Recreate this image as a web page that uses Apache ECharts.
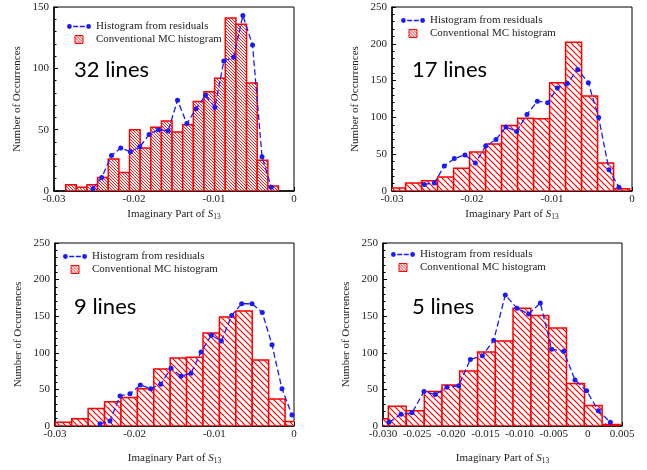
<!DOCTYPE html>
<html>
<head>
<meta charset="utf-8">
<script src="https://cdn.jsdelivr.net/npm/echarts@6/dist/echarts.min.js"></script>
<style>
html,body{margin:0;padding:0;background:#fff;}
#chart{width:647px;height:470px;}
</style>
</head>
<body>
<div id="chart"></div>
<script>
// ---------- DATA ----------
// Panel 1: 32 lines
const p1BinLeft = [-0.02854,-0.02721,-0.02588,-0.02455,-0.02322,-0.02189,-0.02056,-0.01923,-0.0179,-0.01657,-0.01524,-0.01391,-0.01258,-0.01125,-0.00992,-0.00859,-0.00726,-0.00593,-0.0046,-0.00327];
const p1BinWidth = 0.00133;
const p1Counts = [5,3,5,11,26,15,50,35,52,57,48,54,73,81,92,141,136,88,25,4];
const p1LineX = [-0.02512,-0.02403,-0.02282,-0.02166,-0.02045,-0.01928,-0.01811,-0.01694,-0.01573,-0.01456,-0.0134,-0.01223,-0.01106,-0.00989,-0.00877,-0.00756,-0.00639,-0.00518,-0.004,-0.00284];
const p1LineY = [2,11,29,35,32,36,46,50,49,74,55,67,78,68,106,109,143,119,28,3];

// Panel 2: 17 lines
const p2BinLeft = [-0.0303,-0.0283,-0.0263,-0.0243,-0.0223,-0.0203,-0.0183,-0.0163,-0.0143,-0.0123,-0.0103,-0.0083,-0.0063,-0.0043,-0.0023];
const p2BinWidth = 0.002;
const p2Counts = [4,11,14,19,31,53,64,89,99,98,147,202,129,38,3];
const p2LineX = [-0.02596,-0.02471,-0.02346,-0.02221,-0.02088,-0.01958,-0.01829,-0.017,-0.01575,-0.01442,-0.01313,-0.01183,-0.01054,-0.00933,-0.00808,-0.00679,-0.00546,-0.00417,-0.00288,-0.00163];
const p2LineY = [9,11,34,44,49,38,61,70,87,81,104,122,120,140,146,165,147,100,29,5];

// Panel 3: 9 lines
const p3BinLeft = [-0.02996,-0.0279,-0.02584,-0.02378,-0.02172,-0.01966,-0.0176,-0.01554,-0.01348,-0.01142,-0.00936,-0.0073,-0.00524,-0.00318,-0.00112];
const p3BinWidth = 0.00206;
const p3Counts = [5,10,24,33,39,51,78,93,94,127,149,157,90,37,6];
const p3LineX = [-0.02435,-0.0231,-0.02184,-0.02059,-0.01929,-0.01799,-0.01674,-0.01544,-0.01418,-0.01293,-0.01167,-0.01038,-0.00912,-0.00782,-0.00657,-0.00527,-0.00398,-0.00276,-0.00151,-0.00025];
const p3LineY = [3,7,41,44,56,51,57,79,68,72,101,124,116,151,167,167,155,111,51,15];

// Panel 4: 5 lines
const p4BinLeft = [-0.03186,-0.02922,-0.02658,-0.02395,-0.02136,-0.01877,-0.01614,-0.01355,-0.01096,-0.00833,-0.00574,-0.0031,-0.00052,0.00212];
const p4BinWidth = 0.00261;
const p4Counts = [10,27,21,47,56,75,101,116,161,151,134,58,28,2];
const p4LineX = [-0.02912,-0.02736,-0.02575,-0.024,-0.02234,-0.02063,-0.01892,-0.01721,-0.01545,-0.01379,-0.01209,-0.01038,-0.00867,-0.00696,-0.0053,-0.00354,-0.00188,-0.00018,0.00153,0.00329];
const p4LineY = [5,16,18,47,43,53,55,91,96,117,179,161,153,168,105,102,63,48,21,5];

const panelLabels = ['32 lines','17 lines','9 lines','5 lines'];
const seriesNames = ['Histogram from residuals','Conventional MC histogram'];
const yMax = [150,250,250,250];
const xMin = [-0.03,-0.03,-0.03,-0.03];
const xMax = [0,0,0,0.005];
const xInterval = [0.01,0.01,0.01,0.005];
const yTitle = 'Number of Occurrences';
const xTitle = 'Imaginary Part of {s|S}{sub|13}';

// ---------- STYLE ----------
const SERIF = '"Liberation Serif","DejaVu Serif",serif';
const TXT = '#222';

function makeHatch(s, lw) {
  const c = document.createElement('canvas');
  c.width = s; c.height = s;
  const g = c.getContext('2d');
  g.fillStyle = '#fff'; g.fillRect(0, 0, s, s);
  g.strokeStyle = '#ff0000'; g.lineWidth = lw;
  g.beginPath();
  g.moveTo(-1, -1); g.lineTo(s + 1, s + 1);
  g.moveTo(-1, s - 1); g.lineTo(1, s + 1);
  g.moveTo(s - 1, -1); g.lineTo(s + 1, 1);
  g.stroke();
  return { image: c, repeat: 'repeat' };
}
const hatchDense = makeHatch(3, 0.9);
const hatchWide = makeHatch(6, 1.2);
const barPatterns = [hatchDense, hatchWide, hatchWide, hatchWide];

const panels = [
  {left: p1BinLeft, w: p1BinWidth, counts: p1Counts, lx: p1LineX, ly: p1LineY},
  {left: p2BinLeft, w: p2BinWidth, counts: p2Counts, lx: p2LineX, ly: p2LineY},
  {left: p3BinLeft, w: p3BinWidth, counts: p3Counts, lx: p3LineX, ly: p3LineY},
  {left: p4BinLeft, w: p4BinWidth, counts: p4Counts, lx: p4LineX, ly: p4LineY}
];

const grids = [
  {left: 54, top: 7, width: 240, height: 184},
  {left: 392, top: 7, width: 240, height: 184},
  {left: 55, top: 243, width: 239, height: 183},
  {left: 383, top: 243, width: 239, height: 183}
];
const xNameGap = [16, 16, 25, 25];
const legendPos = [{left: 67, top: 21}, {left: 401, top: 15}, {left: 63, top: 251}, {left: 391, top: 249}];
const labelPos = [{left: 74, top: 59}, {left: 412, top: 59}, {left: 74, top: 296}, {left: 412, top: 296}];

const lineIcon = 'path://M0,4a2.4,2.4 0 1,0 4.8,0a2.4,2.4 0 1,0 -4.8,0Z M19.2,4a2.4,2.4 0 1,0 4.8,0a2.4,2.4 0 1,0 -4.8,0Z M6.2,3.35H11.2V4.65H6.2Z M12.8,3.35H17.8V4.65H12.8Z';
const boxIcon = 'path://M0,0H8V8H0Z';

const option = {
  animation: false,
  backgroundColor: '#fff',
  grid: grids.map(g => Object.assign({show: true, borderColor: '#000', borderWidth: 1, backgroundColor: '#fff'}, g)),
  xAxis: grids.map((g, i) => ({
    gridIndex: i, type: 'value', min: xMin[i], max: xMax[i], interval: xInterval[i],
    axisLine: {show: true, onZero: false, lineStyle: {color: '#000', width: 1.5}},
    axisTick: {show: true, inside: true, length: 4, lineStyle: {color: '#000'}},
    minorTick: {show: true, splitNumber: i === 3 ? 2 : 4, length: 2.5, lineStyle: {color: '#000'}},
    splitLine: {show: false},
    axisLabel: {
      fontFamily: SERIF, fontSize: 11, color: TXT, margin: 3,
      formatter: i === 3 ? (v => Math.abs(v) < 1e-9 ? '0' : v.toFixed(3)) : (v => Math.abs(v) < 1e-9 ? '0' : v.toFixed(2))
    },
    name: xTitle, nameLocation: 'middle', nameGap: xNameGap[i],
    nameTextStyle: {
      fontFamily: SERIF, fontSize: 11, color: TXT,
      rich: {
        s: {fontFamily: SERIF, fontSize: 11, fontStyle: 'italic', color: TXT},
        sub: {fontFamily: SERIF, fontSize: 7.5, color: TXT, padding: [6, 0, 0, 0]}
      }
    }
  })),
  yAxis: grids.map((g, i) => ({
    gridIndex: i, type: 'value', min: 0, max: yMax[i], interval: 50,
    axisLine: {show: true, onZero: false, lineStyle: {color: '#000', width: 1.5}},
    axisTick: {show: true, inside: true, length: 4, lineStyle: {color: '#000'}},
    minorTick: {show: true, splitNumber: 5, length: 2.5, lineStyle: {color: '#000'}},
    splitLine: {show: false},
    axisLabel: {fontFamily: SERIF, fontSize: 11, color: TXT, margin: 5},
    name: yTitle, nameLocation: 'middle', nameGap: 31,
    nameTextStyle: {fontFamily: SERIF, fontSize: 11, color: TXT}
  })),
  legend: legendPos.map(p => ({
    left: p.left, top: p.top, orient: 'vertical', padding: 0,
    itemWidth: 24, itemHeight: 8, itemGap: 2, selectedMode: false,
    textStyle: {fontFamily: SERIF, fontSize: 11, color: TXT},
    data: [
      {name: seriesNames[0], icon: lineIcon, itemStyle: {color: '#1a1aff', borderWidth: 0}},
      {name: seriesNames[1], icon: boxIcon, itemStyle: {color: hatchDense, borderColor: '#ff0000', borderWidth: 1}}
    ]
  })),
  graphic: labelPos.map((p, i) => ({
    type: 'text', left: p.left, top: p.top, z: 100,
    style: {text: panelLabels[i], font: '22px Lato', fill: '#000'}
  })),
  series: []
};

panels.forEach((pn, i) => {
  const pat = barPatterns[i];
  option.series.push({
    type: 'custom', name: seriesNames[1], xAxisIndex: i, yAxisIndex: i, clip: true,
    itemStyle: {color: '#ff0000'},
    encode: {x: [0, 1], y: 2},
    data: pn.left.map((l, k) => [l, l + pn.w, pn.counts[k]]),
    renderItem: function (params, api) {
      const a = api.coord([api.value(0), 0]);
      const b = api.coord([api.value(1), api.value(2)]);
      return {
        type: 'rect',
        shape: {x: a[0], y: b[1], width: b[0] - a[0], height: a[1] - b[1]},
        style: {fill: pat, stroke: '#ff0000', lineWidth: 1.5}
      };
    },
    z: 2
  });
  option.series.push({
    type: 'line', name: seriesNames[0], xAxisIndex: i, yAxisIndex: i,
    data: pn.lx.map((x, k) => [x, pn.ly[k]]),
    symbol: 'circle', symbolSize: 5, showSymbol: true,
    itemStyle: {color: '#1a1aff'},
    lineStyle: {color: '#1a1aff', width: 1.3, type: [6, 3]},
    z: 5
  });
});

const chart = echarts.init(document.getElementById('chart'), null, {renderer: 'canvas'});
chart.setOption(option);
</script>
</body>
</html>
